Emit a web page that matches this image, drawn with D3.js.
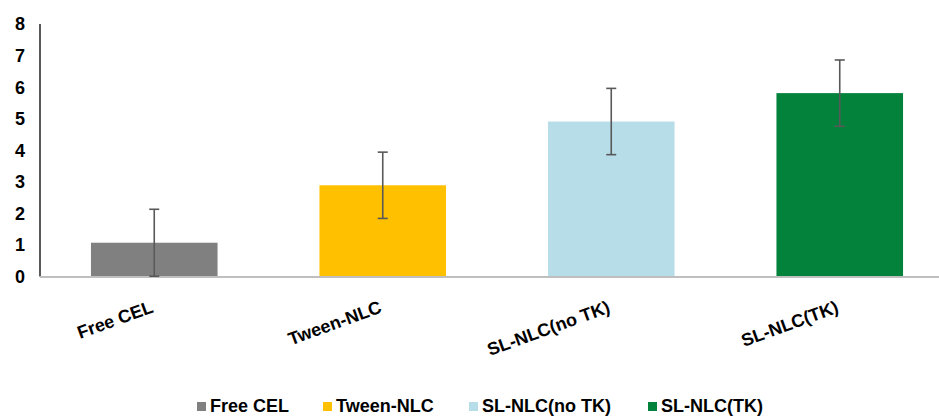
<!DOCTYPE html>
<html><head><meta charset="utf-8">
<script src="https://cdn.jsdelivr.net/npm/d3@7"></script>
<style>body{margin:0;background:#fff}svg{display:block}text{font-family:"Liberation Sans",Arial,sans-serif;font-weight:bold;fill:#000}</style>
</head><body><svg id="c" width="939" height="418"></svg>
<script>
const categories = ["Free CEL","Tween-NLC","SL-NLC(no TK)","SL-NLC(TK)"];
const values = [1.07, 2.89, 4.91, 5.81];
const errors = [1.06, 1.05, 1.05, 1.05];
const colors = ["#808080","#FFC000","#B7DDE8","#03823B"];
const yTicks = [0,1,2,3,4,5,6,7,8];

const svg = d3.select("#c");
const x = d3.scaleBand().domain(categories).range([40, 954]).paddingInner(0.446).paddingOuter(0.223);
const y = d3.scaleLinear().domain([0,8]).range([276.5, 24]);

// y axis line
svg.append("line").attr("x1",40).attr("x2",40).attr("y1",y(8)).attr("y2",y(0)).attr("stroke","#000").attr("stroke-width",1.3);
svg.append("g").selectAll("text").data(yTicks).join("text")
  .attr("x",25).attr("y",d=>y(d)).attr("dy","0.36em").attr("text-anchor","end")
  .style("font-size","18px").text(d=>d);

// bars
svg.append("g").selectAll("rect").data(categories).join("rect")
  .attr("x",d=>x(d)).attr("width",x.bandwidth())
  .attr("y",(d,i)=>y(values[i])).attr("height",(d,i)=>y(0)-y(values[i]))
  .attr("fill",(d,i)=>colors[i]);

// baseline
svg.append("line").attr("x1",40).attr("x2",939).attr("y1",y(0)+0.5).attr("y2",y(0)+0.5).attr("stroke","#BFBFBF").attr("stroke-width",2);

// error bars
const eg = svg.append("g").attr("stroke","#595959").attr("stroke-width",1.6);
categories.forEach((c,i)=>{
  const cx = x(c)+x.bandwidth()/2;
  const hi = y(values[i]+errors[i]), lo = y(Math.max(0,values[i]-errors[i]));
  eg.append("line").attr("x1",cx).attr("x2",cx).attr("y1",hi).attr("y2",lo);
  eg.append("line").attr("x1",cx-5).attr("x2",cx+5).attr("y1",hi).attr("y2",hi);
  eg.append("line").attr("x1",cx-5).attr("x2",cx+5).attr("y1",lo).attr("y2",lo);
});

// x labels
svg.append("g").selectAll("text").data(categories).join("text")
  .attr("transform",d=>`translate(${x(d)+x.bandwidth()/2},${312}) rotate(-20)`)
  .attr("text-anchor","end")
  .style("font-size","18px").text(d=>d);

// legend
const legX = [197, 323, 469, 648];
const lg = svg.append("g");
categories.forEach((c,i)=>{
  lg.append("rect").attr("x",legX[i]).attr("y",402).attr("width",9).attr("height",9).attr("fill",colors[i]);
  lg.append("text").attr("x",legX[i]+13).attr("y",412).style("font-size","18px").text(c);
});
</script></body></html>
